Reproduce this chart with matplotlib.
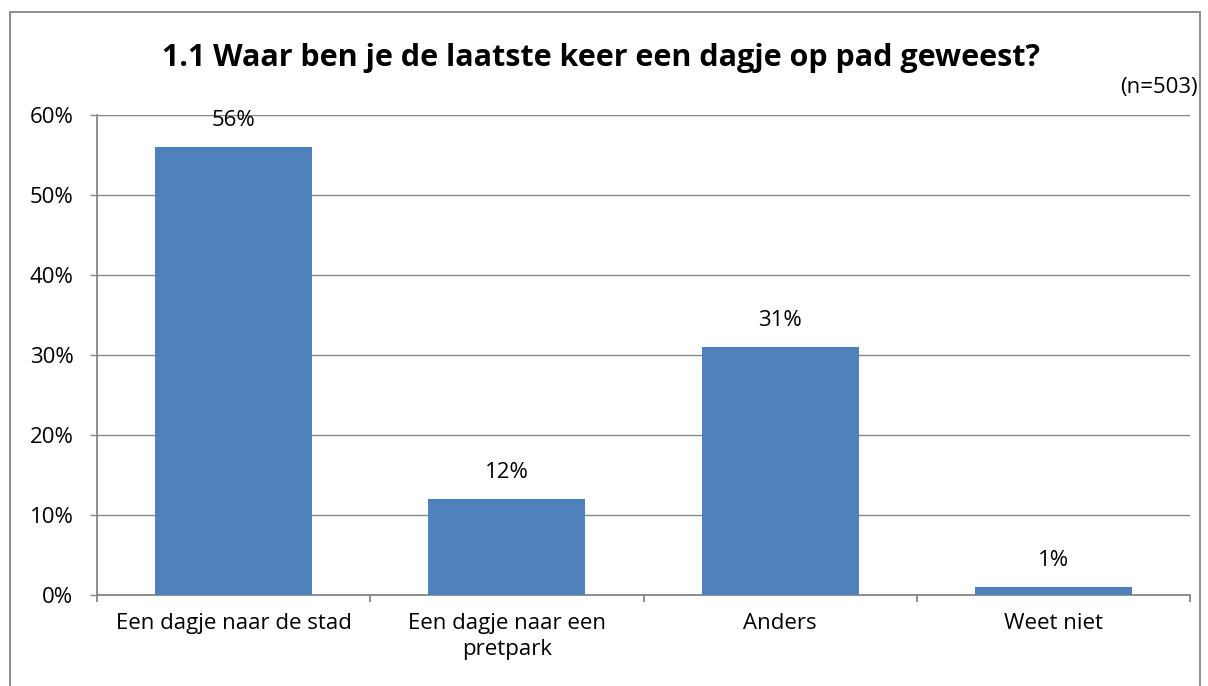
import matplotlib
matplotlib.use("Agg")
import matplotlib.pyplot as plt
from matplotlib.patches import Rectangle

# data
categories = ["Een dagje naar de stad", "Een dagje naar een\npretpark", "Anders", "Weet niet"]
values = [56, 12, 31, 1]
value_labels = ["56%", "12%", "31%", "1%"]
y_ticks = [0, 10, 20, 30, 40, 50, 60]
title = "1.1 Waar ben je de laatste keer een dagje op pad geweest?"
n_note = "(n=503)"

BAR = "#4F81BD"
GRID = "#868686"
FS = 16

plt.rcParams["font.family"] = ["Open Sans", "DejaVu Sans"]

fig = plt.figure(figsize=(12.08, 6.86), dpi=100)
fig.patches.append(Rectangle((10 / 1208, -0.01), 1190 / 1208, 1 - 12 / 686 + 0.01,
                             transform=fig.transFigure, fill=False,
                             edgecolor=GRID, lw=1.3))

ax = fig.add_axes([97 / 1208, 1 - 595 / 686, 1093 / 1208, 480 / 686])
x = list(range(len(categories)))
ax.bar(x, values, width=0.575, color=BAR, zorder=3)
for xi, v, lab in zip(x, values, value_labels):
    ax.annotate(lab, (xi, v), xytext=(0, 19), textcoords="offset points",
                ha="center", va="center", fontsize=FS, color="black")

ax.set_xlim(-0.5, len(categories) - 0.5)
ax.set_ylim(0, 60)
ax.set_yticks(y_ticks)
ax.set_yticklabels([f"{t}%" for t in y_ticks], fontsize=FS)
ax.set_xticks(x)
ax.set_xticklabels(categories, fontsize=FS, linespacing=1.3)
ax.tick_params(axis="x", length=0, pad=13)
ax.set_xticks([i - 0.5 for i in range(len(categories) + 1)], minor=True)
ax.tick_params(axis="x", which="minor", length=5, color=GRID, width=1.3)
ax.tick_params(axis="y", length=5, color=GRID, width=1, pad=12)
ax.grid(axis="y", color=GRID, lw=1, zorder=0)
for s in ["top", "right"]:
    ax.spines[s].set_visible(False)
for s in ["left", "bottom"]:
    ax.spines[s].set_color(GRID)
    ax.spines[s].set_linewidth(1.3)

fig.text(601 / 1208, 1 - 58 / 686, title, ha="center", va="center",
         fontsize=22, fontweight="bold")
fig.text(1198 / 1208, 1 - 88 / 686, n_note, ha="right", va="center", fontsize=FS)

fig.savefig("out.png", dpi=100)
